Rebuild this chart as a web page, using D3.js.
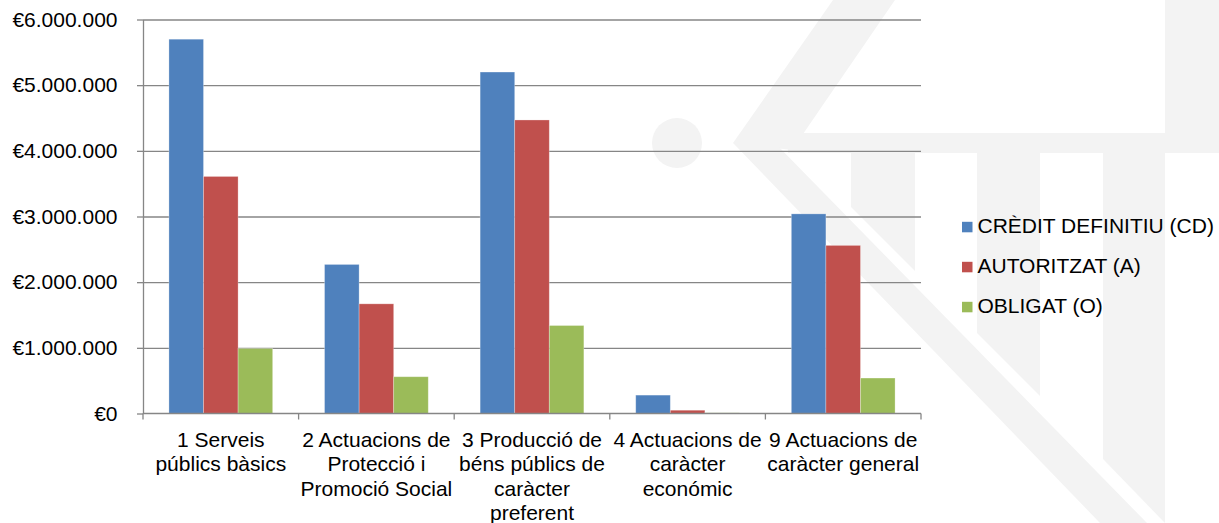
<!DOCTYPE html>
<html>
<head>
<meta charset="utf-8">
<script src="https://cdn.jsdelivr.net/npm/d3@7"></script>
<style>
  html, body { margin: 0; padding: 0; background: #ffffff; }
  svg { display: block; }
  text { font-family: "Liberation Sans", Arial, sans-serif; fill: #000; }
</style>
</head>
<body>
<svg id="chart" width="1219" height="523"></svg>
<script>
// ---- data ----
const categories = [
  "1 Serveis públics bàsics",
  "2 Actuacions de Protecció i Promoció Social",
  "3 Producció de béns públics de caràcter preferent",
  "4 Actuacions de caràcter económic",
  "9 Actuacions de caràcter general"
];
const categoryLines = [
  ["1 Serveis", "públics bàsics"],
  ["2 Actuacions de", "Protecció i", "Promoció Social"],
  ["3 Producció de", "béns públics de", "caràcter", "preferent"],
  ["4 Actuacions de", "caràcter", "económic"],
  ["9 Actuacions de", "caràcter general"]
];
const seriesNames = ["CRÈDIT DEFINITIU (CD)", "AUTORITZAT (A)", "OBLIGAT (O)"];
const creditDefinitiu = [5700000, 2270000, 5200000, 280000, 3040000];
const autoritzat      = [3610000, 1670000, 4470000, 50000, 2560000];
const obligat         = [990000, 560000, 1340000, 10000, 540000];
const yTicks = [0, 1000000, 2000000, 3000000, 4000000, 5000000, 6000000];
const seriesColors = ["#4F81BD", "#C0504D", "#9BBB59"];

const seriesValues = [creditDefinitiu, autoritzat, obligat];
const rows = categories.map((c, i) => ({
  cat: c,
  vals: seriesNames.map((s, j) => ({ s, v: seriesValues[j][i], j }))
}));

const svg = d3.select("#chart");

// ---- faint background watermark (decorative) ----
const wm = svg.append("g").attr("fill", "#f3f3f3");
wm.append("circle").attr("cx", 677).attr("cy", 143).attr("r", 25);
const wmPolys = [
  [[833,0],[895,0],[792,150],[733,143]],            // upper arm
  [[733,143],[775,143],[1147,523],[1100,523]],      // lower arm
  [[788,133],[1165,133],[1165,153],[788,153]],      // horizontal band
  [[1165,0],[1219,0],[1219,153],[1165,153]],        // top right column
  [[851,153],[915,153],[915,271],[851,207]],        // bar 1
  [[977,153],[1040,153],[1040,396],[977,333]],      // bar 2
  [[1103,153],[1165,153],[1165,523],[1103,459]]     // bar 3
];
wm.selectAll("polygon").data(wmPolys).join("polygon")
  .attr("points", d => d.map(p => p.join(",")).join(" "));

// ---- scales ----
const plotLeft = 143, plotRight = 921, plotTop = 19.5, plotBottom = 413.5;
const x = d3.scaleBand().domain(categories).range([plotLeft, plotRight]).paddingInner(0).paddingOuter(0);
const xInner = d3.scaleBand().domain(seriesNames).range([0, x.bandwidth()]).paddingInner(0).paddingOuter(0.75);
const y = d3.scaleLinear().domain([0, 6000000]).range([plotBottom, plotTop]);

const loc = d3.formatLocale({ decimal: ",", thousands: ".", grouping: [3], currency: ["€", ""] });
const fmt = loc.format("$,");

const axisColor = "#868686";

// gridlines
const grid = svg.append("g").attr("transform", `translate(${plotLeft},0)`)
  .call(d3.axisLeft(y).tickValues(yTicks.filter(v => v > 0)).tickSize(-(plotRight - plotLeft)).tickFormat(""));
grid.select(".domain").remove();
grid.selectAll("line").attr("stroke", axisColor).attr("stroke-width", 1.3);

// y axis with labels
const yAxis = svg.append("g").attr("transform", `translate(${plotLeft},0)`)
  .call(d3.axisLeft(y).tickValues(yTicks).tickSize(6).tickSizeOuter(0).tickPadding(19.5).tickFormat(fmt));
yAxis.select(".domain").attr("stroke", axisColor).attr("stroke-width", 1.3);
yAxis.selectAll("line").attr("stroke", axisColor).attr("stroke-width", 1.3);
yAxis.selectAll("text")
  .style("font-family", '"Liberation Sans", Arial, sans-serif')
  .style("font-size", "21px").attr("fill", "#000");

// bars
const groups = svg.append("g").selectAll("g").data(rows).join("g")
  .attr("transform", d => `translate(${x(d.cat)},0)`);
groups.selectAll("rect").data(d => d.vals).join("rect")
  .attr("x", d => xInner(d.s))
  .attr("width", xInner.bandwidth())
  .attr("y", d => y(d.v))
  .attr("height", d => y(0) - y(d.v))
  .attr("fill", d => seriesColors[d.j])
  .attr("stroke", "rgba(255,255,255,0.35)")
  .attr("stroke-width", 0.8);

// x axis line and boundary ticks
const xAxisG = svg.append("g");
xAxisG.append("line")
  .attr("x1", plotLeft).attr("x2", plotRight)
  .attr("y1", y(0)).attr("y2", y(0))
  .attr("stroke", axisColor).attr("stroke-width", 1.3);
const boundaries = categories.map(c => x(c)).concat([x.range()[1]]);
xAxisG.selectAll("line.tk").data(boundaries).join("line").attr("class", "tk")
  .attr("x1", d => d).attr("x2", d => d)
  .attr("y1", y(0)).attr("y2", y(0) + 6)
  .attr("stroke", axisColor).attr("stroke-width", 1.3);

// category labels
const catLabels = svg.append("g").selectAll("text").data(categories).join("text")
  .attr("text-anchor", "middle")
  .style("font-size", "21px")
  .attr("transform", c => `translate(${x(c) + x.bandwidth() / 2},447)`);
catLabels.selectAll("tspan").data((c, i) => categoryLines[i]).join("tspan")
  .attr("x", 0).attr("y", (d, k) => k * 24.3).text(d => d);

// legend
const legend = svg.append("g").attr("transform", "translate(962,0)");
const li = legend.selectAll("g").data(seriesNames).join("g")
  .attr("transform", (d, i) => `translate(0,${233.3 + i * 40})`);
li.append("rect").attr("x", 0).attr("y", -11.5).attr("width", 10.5).attr("height", 10.5)
  .attr("fill", (d, i) => seriesColors[i]);
li.append("text").attr("x", 15.5).attr("y", 0).style("font-size", "21px").text(d => d);
</script>
</body>
</html>
